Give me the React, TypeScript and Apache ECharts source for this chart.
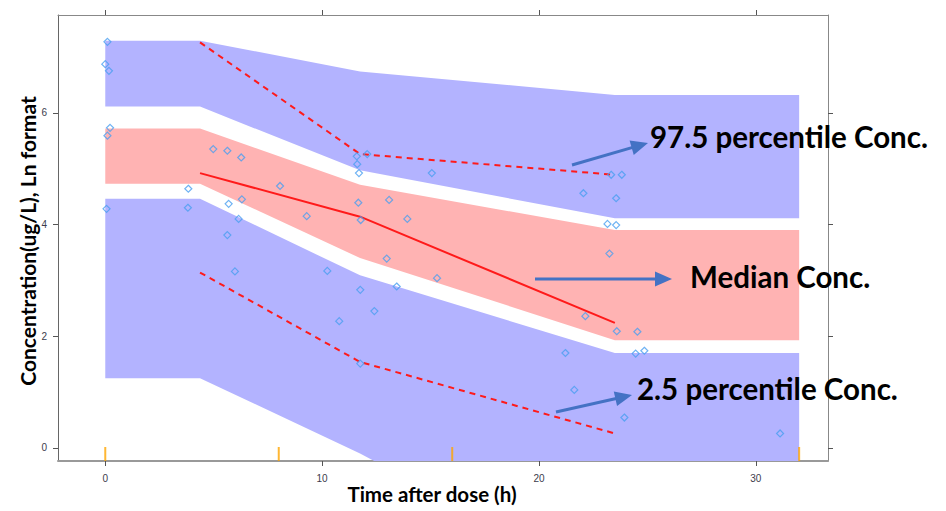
import React, { useEffect, useRef } from "react";
import * as echarts from "echarts";

// Bin vertices for prediction interval bands (time, h)
const bandTime = [0, 4.37, 11.75, 23.5, 32];
// 97.5th percentile prediction interval
const upperPiHigh = [7.29, 7.29, 6.74, 6.32, 6.32];
const upperPiLow = [6.11, 6.11, 4.97, 4.11, 4.11];
// median prediction interval
const medianPiHigh = [5.72, 5.72, 4.71, 3.9, 3.9];
const medianPiLow = [4.73, 4.73, 3.4, 1.93, 1.93];
// 2.5th percentile prediction interval
const lowerPiHigh = [4.46, 4.46, 3.09, 1.7, 1.7];
const lowerPiLow = [1.25, 1.25, -0.1, -2.5, -2.5];

// Observed percentile lines
const lineTime = [4.37, 11.75, 23.5];
const obsP975 = [7.26, 5.26, 4.89];
const obsP50 = [4.92, 4.14, 2.24];
const obsP025 = [3.14, 1.54, 0.26];

// Observed concentrations
const obsTime = [
  0.1, 0.0, 0.17, 0.22, 0.1, 0.06, 3.83, 3.81, 4.98, 5.63, 6.27, 5.69, 6.3, 6.15, 5.63, 5.98,
  8.06, 9.29, 10.24, 10.79, 11.6, 11.62, 11.7, 12.08, 11.67, 11.78, 11.76, 11.76, 12.41, 12.98,
  13.09, 13.44, 13.93, 15.06, 15.3, 21.22, 21.63, 22.05, 22.14, 23.16, 23.25, 23.33, 23.56,
  23.56, 23.59, 23.82, 23.94, 24.46, 24.54, 24.86, 31.12,
];
const obsConc = [
  7.27, 6.87, 6.75, 5.73, 5.59, 4.28, 4.64, 4.3, 5.35, 5.32, 5.2, 4.37, 4.45, 4.1, 3.81, 3.16,
  4.69, 4.15, 3.17, 2.27, 5.22, 5.08, 4.92, 5.26, 4.39, 4.08, 2.83, 1.51, 2.45, 3.39,
  4.44, 2.89, 4.1, 4.92, 3.04, 1.7, 1.04, 4.56, 2.36, 4.01, 3.48, 4.89, 4.47,
  3.99, 2.09, 4.89, 0.545, 1.69, 2.08, 1.74, 0.26,
];

// Bin boundaries rug
const rugTime = [0, 8, 16, 32];

const xTicks = [0, 10, 20, 30];
const yTicks = [0, 2, 4, 6];
const xMin = -2.18;
const xMax = 33.33;
const yMin = -0.233;
const yMax = 7.75;

const BLUE_BAND = "#b3b3ff";
const PINK_BAND = "#ffb3b3";
const RED = "#ff1a1a";
const ARROW = "#4472c4";

function bandSeries(lo: number[], hi: number[], color: string) {
  return {
    type: "custom",
    clip: true,
    silent: true,
    z: 1,
    data: bandTime.map((t, i) => [t, lo[i], hi[i]]),
    renderItem: (params: any, api: any) => {
      if (params.dataIndexInside !== 0) return null;
      const n = bandTime.length;
      const pts: number[][] = [];
      for (let j = 0; j < n; j++) pts.push(api.coord([api.value(0, j), api.value(2, j)]));
      for (let j = n - 1; j >= 0; j--) pts.push(api.coord([api.value(0, j), api.value(1, j)]));
      return { type: "polygon", shape: { points: pts }, style: { fill: color } };
    },
  };
}

function arrow(x1: number, y1: number, x2: number, y2: number) {
  const len = 17;
  const hw = 7.5;
  const dx = x2 - x1;
  const dy = y2 - y1;
  const d = Math.sqrt(dx * dx + dy * dy);
  const ux = dx / d;
  const uy = dy / d;
  const bx = x2 - ux * len;
  const by = y2 - uy * len;
  return [
    {
      type: "line",
      shape: { x1, y1, x2: bx + ux * 2, y2: by + uy * 2 },
      style: { stroke: ARROW, lineWidth: 3 },
      z: 100,
    },
    {
      type: "polygon",
      shape: {
        points: [
          [x2, y2],
          [bx - uy * hw, by + ux * hw],
          [bx + uy * hw, by - ux * hw],
        ],
      },
      style: { fill: ARROW },
      z: 100,
    },
  ];
}

export default function App() {
  const ref = useRef<HTMLDivElement>(null);
  useEffect(() => {
    if (!ref.current) return;
    const chart = echarts.init(ref.current, null, { renderer: "svg" });
    const tickLabel = { fontSize: 10, color: "#3c3c4c", fontFamily: "Liberation Sans" };
    const option: any = {
      animation: false,
      backgroundColor: "#ffffff",
      grid: { left: 58, top: 15, right: 118, bottom: 50, containLabel: false },
      xAxis: [
        {
          type: "value",
          position: "bottom",
          min: xMin,
          max: xMax,
          splitLine: { show: false },
          axisLine: { show: true, onZero: false, lineStyle: { color: "#999999", width: 2 } },
          axisTick: { show: true, length: 5, customValues: xTicks, lineStyle: { color: "#555555" } },
          axisLabel: { ...tickLabel, customValues: xTicks, margin: 12 },
        },
        {
          type: "value",
          position: "top",
          min: xMin,
          max: xMax,
          splitLine: { show: false },
          axisLine: { show: true, onZero: false, lineStyle: { color: "#888888", width: 1 } },
          axisTick: { show: true, length: 5, customValues: xTicks, lineStyle: { color: "#555555" } },
          axisLabel: { show: false },
        },
      ],
      yAxis: [
        {
          type: "value",
          position: "left",
          min: yMin,
          max: yMax,
          splitLine: { show: false },
          axisLine: { show: true, onZero: false, lineStyle: { color: "#666666", width: 1 } },
          axisTick: { show: true, length: 5, customValues: yTicks, lineStyle: { color: "#555555" } },
          axisLabel: { ...tickLabel, customValues: yTicks, margin: 11 },
        },
        {
          type: "value",
          position: "right",
          min: yMin,
          max: yMax,
          splitLine: { show: false },
          axisLine: { show: true, onZero: false, lineStyle: { color: "#888888", width: 1 } },
          axisTick: { show: true, length: 5, customValues: yTicks, lineStyle: { color: "#555555" } },
          axisLabel: { show: false },
        },
      ],
      series: [
        bandSeries(upperPiLow, upperPiHigh, BLUE_BAND),
        bandSeries(medianPiLow, medianPiHigh, PINK_BAND),
        bandSeries(lowerPiLow, lowerPiHigh, BLUE_BAND),
        {
          type: "line",
          data: lineTime.map((t, i) => [t, obsP975[i]]),
          symbol: "none",
          silent: true,
          z: 3,
          lineStyle: { color: RED, width: 2, type: [6, 5] },
        },
        {
          type: "line",
          data: lineTime.map((t, i) => [t, obsP50[i]]),
          symbol: "none",
          silent: true,
          z: 3,
          lineStyle: { color: RED, width: 2 },
        },
        {
          type: "line",
          data: lineTime.map((t, i) => [t, obsP025[i]]),
          symbol: "none",
          silent: true,
          z: 3,
          lineStyle: { color: RED, width: 2, type: [6, 5] },
        },
        {
          type: "scatter",
          data: obsTime.map((t, i) => [t, obsConc[i]]),
          symbol: "diamond",
          symbolSize: 7,
          silent: true,
          z: 4,
          itemStyle: { color: "rgba(0,0,0,0)", borderColor: "#4a9ff0", borderWidth: 1.2 },
        },
        {
          type: "scatter",
          data: rugTime.map((t) => [t, yMin]),
          symbol: "rect",
          symbolSize: [2, 14],
          symbolOffset: [0, -7],
          clip: false,
          silent: true,
          z: 5,
          itemStyle: { color: "#ffa500" },
        },
      ],
      graphic: [
        {
          type: "text",
          x: 27,
          y: 241,
          rotation: Math.PI / 2,
          style: {
            text: "Concentration(ug/L), Ln format",
            font: "bold 21px Lato",
            fill: "#000000",
            align: "center",
            verticalAlign: "middle",
          },
        },
        {
          type: "text",
          x: 432,
          y: 494,
          style: {
            text: "Time after dose (h)",
            font: "bold 20.5px Lato",
            fill: "#000000",
            align: "center",
            verticalAlign: "middle",
          },
        },
        {
          type: "text",
          x: 650,
          y: 136,
          z: 100,
          style: {
            text: "97.5 percentile Conc.",
            font: "bold 29.5px Lato",
            fill: "#000000",
            align: "left",
            verticalAlign: "middle",
          },
        },
        {
          type: "text",
          x: 690,
          y: 276,
          z: 100,
          style: {
            text: "Median Conc.",
            font: "bold 29.5px Lato",
            fill: "#000000",
            align: "left",
            verticalAlign: "middle",
          },
        },
        {
          type: "text",
          x: 637,
          y: 388,
          z: 100,
          style: {
            text: "2.5 percentile Conc.",
            font: "bold 29.5px Lato",
            fill: "#000000",
            align: "left",
            verticalAlign: "middle",
          },
        },
        ...arrow(572, 165, 648, 143),
        ...arrow(535, 279, 672, 279),
        ...arrow(556, 412, 632, 395),
      ],
    };
    chart.setOption(option);
    return () => chart.dispose();
  }, []);
  return (
    <div
      ref={ref}
      style={{ position: "absolute", left: 0, top: 0, width: 946, height: 511, background: "#fff" }}
    />
  );
}
